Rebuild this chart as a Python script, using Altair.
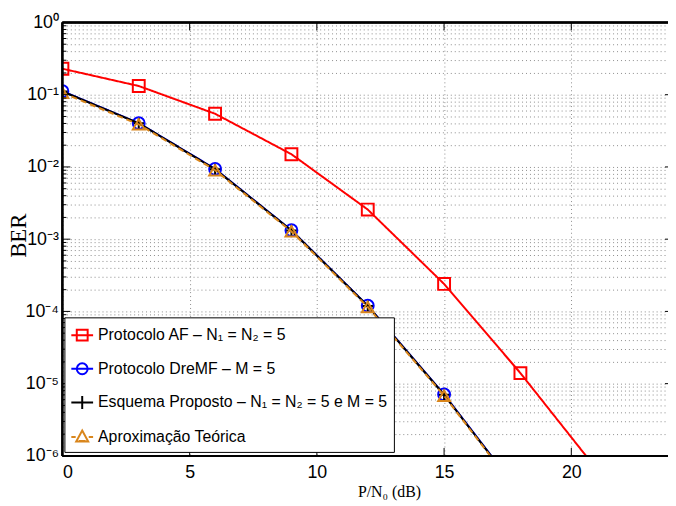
import json
import altair as alt
import pandas as pd

# ---------------- data ----------------
snr_af = [0, 3, 6, 9, 12, 15, 18, 21]
ber_af = [0.229, 0.132, 0.0545, 0.0150, 2.57e-3, 2.4e-4, 1.4e-5, 6.5e-7]

snr_m = [0, 3, 6, 9, 12, 15, 18]
ber_dremf = [0.112, 0.0404, 9.4e-3, 1.33e-3, 1.2e-4, 7.1e-6, 3.0e-7]
ber_prop = [0.111, 0.0402, 9.3e-3, 1.32e-3, 1.19e-4, 7.0e-6, 2.95e-7]
ber_teo = [0.106, 0.0388, 9.0e-3, 1.28e-3, 1.15e-4, 6.8e-6, 2.85e-7]

names = [
    "Protocolo  AF – N₁ = N₂ = 5",
    "Protocolo DreMF – M = 5",
    "Esquema Proposto – N₁ = N₂ = 5 e M = 5",
    "Aproximação Teórica",
]
colors = ["#ff0000", "#0000ff", "#000000", "#d9861c"]

x_ticks = [0, 5, 10, 15, 20]
y_major = [1, 1e-1, 1e-2, 1e-3, 1e-4, 1e-5, 1e-6]
y_minor = [k * d for d in [1e-1, 1e-2, 1e-3, 1e-4, 1e-5, 1e-6] for k in range(2, 10)]
y_labels = ["10⁰", "10⁻¹", "10⁻²", "10⁻³", "10⁻⁴", "10⁻⁵", "10⁻⁶"]

W, H = 612, 438
SANS = "Liberation Sans"
SERIF = "Liberation Serif"

series = [
    (names[0], snr_af, ber_af),
    (names[1], snr_m, ber_dremf),
    (names[2], snr_m, ber_prop),
    (names[3], snr_m, ber_teo),
]
df = pd.DataFrame(
    [{"serie": n, "snr": x, "ber": y} for n, xs, ys in series for x, y in zip(xs, ys)]
)

label_expr = (
    "abs(log(datum.value)/LN10 - round(log(datum.value)/LN10)) < 0.001 ? "
    + json.dumps(y_labels, ensure_ascii=False)
    + "[-round(log(datum.value)/LN10)] : ''"
)

xscale = alt.Scale(domain=[0, 23.8], nice=False, zero=False)
yscale = alt.Scale(type="log", domain=[1e-6, 1], nice=False)

X = alt.X(
    "snr:Q",
    scale=xscale,
    axis=alt.Axis(
        values=x_ticks, grid=True, gridDash=[1, 3], gridColor="#8c8c8c",
        ticks=False, domain=False, labelFont=SANS, labelFontSize=18,
        labelColor="black", labelPadding=8, title="P/N₀ (dB)",
        titleFont=SERIF, titleFontSize=16, titleFontWeight="normal",
        titleColor="black", titleX=330, titleY=28,
    ),
)
Y = alt.Y(
    "ber:Q",
    scale=yscale,
    axis=alt.Axis(
        values=y_major + y_minor, grid=True, gridDash=[1, 3], gridColor="#8c8c8c",
        ticks=False, domain=False, labelFont=SANS, labelFontSize=18,
        labelColor="black", labelPadding=4, labelExpr=label_expr,
        labelOverlap=False, title="BER", titleFont=SERIF, titleFontSize=23,
        titleFontWeight="normal", titleColor="black",
        titleX=-44, titleY=H / 2 - 4, titleAngle=270, titleAlign="center",
        titleBaseline="middle",
    ),
)

base = alt.Chart(df)
layers = []
shapes = ["square", "circle", "M-1,0H1M0,-1V1", "triangle-up"]
dashes = [[1, 0], [1, 0], [1, 0], [6, 4]]
for (n, _, _), c, s, d in zip(series, colors, shapes, dashes):
    sub = base.transform_filter(alt.datum.serie == n)
    layers.append(
        sub.mark_line(strokeWidth=2, clip=True, strokeDash=d).encode(
            x=X, y=Y, color=alt.value(c)
        )
    )
    layers.append(
        sub.mark_point(shape=s, size=144 if s != shapes[2] else 110,
                       filled=False, strokeWidth=2, clip=True, opacity=1).encode(
            x=X, y=Y, color=alt.value(c)
        )
    )

legend_paths = [
    "M-1,0H1M-0.5,-0.5H0.5V0.5H-0.5Z",
    "M-1,0H1M0.5,0A0.5,0.5 0 1,1 -0.5,0A0.5,0.5 0 1,1 0.5,0",
    "M-1,0H1M0,-0.6V0.6",
    "M-1,0H-0.6M0.6,0H1M-0.3,0.35H0.3M0,-0.6L0.55,0.4H-0.55Z",
]
legend_layer = base.transform_filter("datum.snr < -100").mark_point(
    filled=False, strokeWidth=2, opacity=1
).encode(
    x=X, y=Y,
    color=alt.Color("serie:N", scale=alt.Scale(domain=names, range=colors),
                    legend=alt.Legend(title=None)),
    shape=alt.Shape("serie:N", scale=alt.Scale(domain=names, range=legend_paths),
                    legend=alt.Legend(title=None)),
)
layers.append(legend_layer)

# tick marks (inward, MATLAB style) and frame
ymaj = pd.DataFrame({"v": y_major})
ymin = pd.DataFrame({"v": y_minor})
xt = pd.DataFrame({"t": x_ticks[1:]})
tk = dict(color="black", strokeWidth=1)
layers += [
    alt.Chart(ymaj).mark_rule(**tk).encode(
        y=alt.Y("v:Q", scale=yscale), x=alt.value(0), x2=alt.value(8)),
    alt.Chart(ymin).mark_rule(**tk).encode(
        y=alt.Y("v:Q", scale=yscale), x=alt.value(0), x2=alt.value(4)),
    alt.Chart(ymaj).mark_rule(**tk).encode(
        y=alt.Y("v:Q", scale=yscale), x=alt.value(W - 3), x2=alt.value(W)),
    alt.Chart(xt).mark_rule(**tk).encode(
        x=alt.X("t:Q", scale=xscale), y=alt.value(H), y2=alt.value(H - 8)),
    alt.Chart(xt).mark_rule(**tk).encode(
        x=alt.X("t:Q", scale=xscale), y=alt.value(0), y2=alt.value(8)),
    alt.Chart(ymaj).mark_rule(color="black", strokeWidth=1.5).encode(
        x=alt.value(0), x2=alt.value(W), y=alt.value(0)),
    alt.Chart(ymaj).mark_rule(color="black", strokeWidth=1.5).encode(
        x=alt.value(0), x2=alt.value(W), y=alt.value(H)),
    alt.Chart(ymaj).mark_rule(color="black", strokeWidth=1.5).encode(
        x=alt.value(0), y=alt.value(0), y2=alt.value(H)),
]

chart = (
    alt.layer(*layers)
    .properties(
        width=W, height=H,
        autosize=alt.AutoSizeParams(type="none"),
        padding={"left": 55, "top": 12, "right": 0, "bottom": 46},
        background="white",
    )
    .configure_view(stroke=None)
    .configure_legend(
        orient="none", legendX=2, legendY=298, fillColor="white",
        strokeColor="black", strokeWidth=1, cornerRadius=0, padding=6,
        rowPadding=12, labelFont=SANS, labelFontSize=16, labelColor="black",
        symbolSize=484, symbolStrokeWidth=2, labelOffset=4, labelLimit=400,
    )
)

chart.save("out.html", embed_options={"renderer": "svg", "actions": False})
